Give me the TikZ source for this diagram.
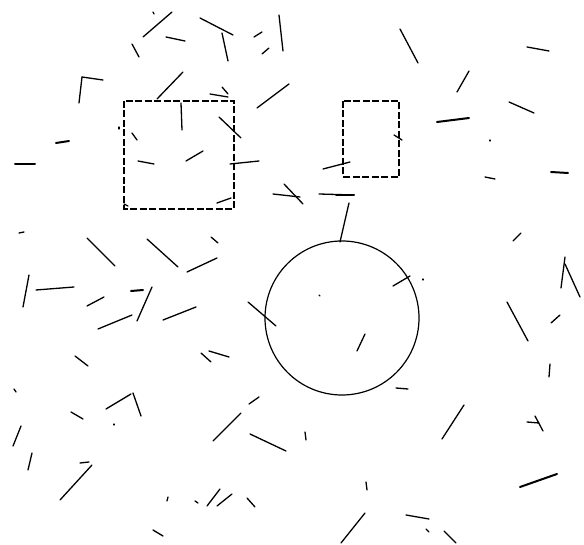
\documentclass[tikz,border=0pt]{standalone}
\begin{document}
\begin{tikzpicture}[x=1pt,y=-1pt,
  seg/.style={line width=1.3pt,line cap=round},
  thickseg/.style={line width=2pt,line cap=round},
  dbox/.style={line width=1.3pt,dash pattern=on 7pt off 2.5pt},
  ring/.style={line width=1.2pt}]
\useasboundingbox (0,0) rectangle (584,545);
% dashed rectangles and circle
\draw[dbox] (124,101) rectangle (234,209);
\draw[dbox] (343,101) rectangle (399,177);
\draw[ring] (342,318) circle[radius=77];
% scattered segments
\foreach \a/\b/\c/\d in {
 143/37/172/12, 153/12/154/14, 200/18/233/35, 166/37/185/41, 132/44/139/57,
 222/33/228/61, 279/15/283/51, 254/37/262/32, 262/54/269/48,
 82/77/103/80, 82/77/79/103, 157/99/183/72, 210/94/228/97, 222/87/228/94,
 257/108/289/84, 181/103/182/130, 219/117/241/138, 132/133/137/140, 119/127/119/129,
 138/161/154/164, 186/161/203/151, 230/164/259/161,
 400/29/418/63, 457/92/469/71, 527/47/549/51, 509/102/534/113,
 490/140/490/141, 485/177/495/179, 394/135/402/140, 323/169/350/162,
 217/203/231/198, 124/204/128/206, 19/233/24/232, 87/238/115/266, 147/239/178/267,
 211/237/218/243, 187/272/217/258, 29/275/23/307, 36/290/74/287, 87/306/104/297,
 152/287/137/321, 98/329/132/315, 163/320/196/307, 248/302/276/326,
 75/356/88/366, 201/353/211/362, 209/351/229/357,
 273/194/300/197, 284/184/303/204, 319/194/354/195, 349/203/340/242,
 393/286/410/276, 423/279/423/280, 319/295/320/296, 365/334/357/351,
 513/241/521/233, 565/257/561/288, 565/264/580/297, 507/302/528/341, 551/323/560/315,
 14/389/16/392, 106/409/131/394, 133/393/141/416, 71/412/83/419, 114/424/114/425,
 21/426/13/446, 32/453/28/470, 249/404/259/397, 213/441/241/413, 250/434/286/451,
 80/463/89/462, 60/500/92/465, 167/501/168/497, 195/501/198/503, 207/506/220/489,
 217/506/232/494, 247/498/255/507, 153/530/163/536,
 550/364/549/377, 396/388/408/389, 305/432/306/440, 464/405/442/439,
 527/422/539/423, 535/416/543/431, 366/482/367/490,
 365/513/341/543, 406/515/429/519, 426/529/429/532, 444/531/456/543}
 \draw[seg] (\a,\b) -- (\c,\d);
\foreach \a/\b/\c/\d in {
 15/164/35/164, 56/143/69/141, 437/122/469/118, 551/172/568/173,
 336/195/354/195, 131/291/143/290, 520/487/557/474}
 \draw[thickseg] (\a,\b) -- (\c,\d);
\end{tikzpicture}
\end{document}
